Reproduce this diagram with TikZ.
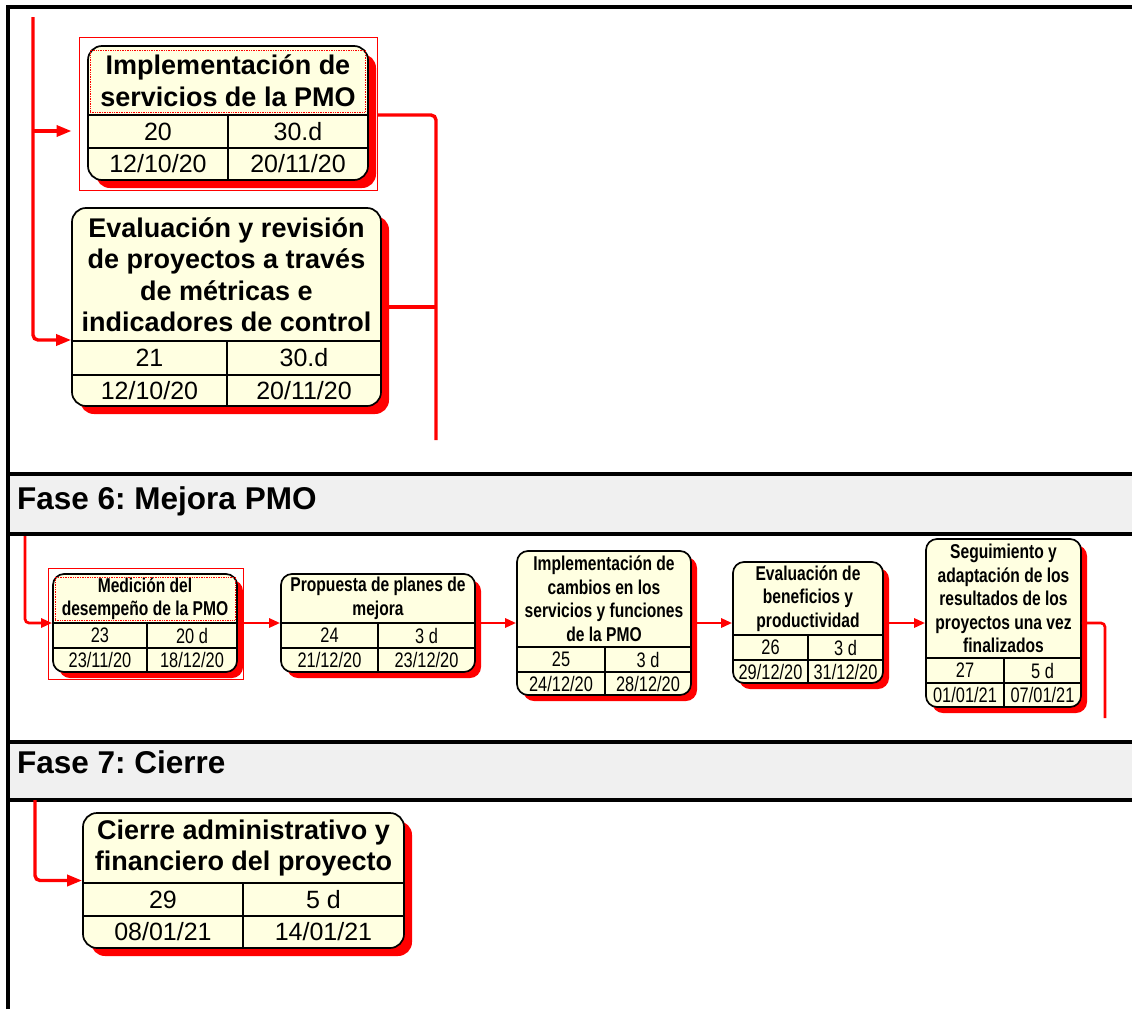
\documentclass[tikz,border=0pt]{standalone}
\usepackage{fontspec}
\setmainfont{Liberation Sans}
\newfontfamily\narrowsans[FakeStretch=0.78]{Liberation Sans}
\usetikzlibrary{arrows.meta,fit}
\frenchspacing

\definecolor{boxfill}{HTML}{FFFFE1}
\definecolor{bandgray}{HTML}{F0F0F0}

% geometry of the next task box:
% left, top, right, bottom, title/row line, row/row line, column line, shadow offset
\newcommand\geom[8]{\def\Xa{#1}\def\Ya{#2}\def\Xb{#3}\def\Yb{#4}%
  \def\Yt{#5}\def\Yr{#6}\def\Xd{#7}\def\Off{#8}}

% task box: name, size (big/small), title, id, duration, start, finish
\newcommand\task[7]{%
  \node[#2shadow, fit={(\Xa+\Off,\Ya+\Off) (\Xb+\Off,\Yb+\Off)}] (#1-sh) {};
  \node[box, #2, fit={(\Xa,\Ya) (\Xb,\Yb)}] (#1) {};
  \draw[cellline] (\Xa,\Yt) -- (\Xb,\Yt) (\Xa,\Yr) -- (\Xb,\Yr) (\Xd,\Yt) -- (\Xd,\Yb);
  \node[#2title] (#1-t) at ({(\Xa+\Xb)/2},{(\Ya+\Yt)/2}) {#3};
  \node[#2cell] (#1-id) at ({(\Xa+\Xd)/2},{(\Yt+\Yr)/2}) {#4};
  \node[#2cell] (#1-dur) at ({(\Xd+\Xb)/2},{(\Yt+\Yr)/2}) {#5};
  \node[#2cell] (#1-es) at ({(\Xa+\Xd)/2},{(\Yr+\Yb)/2}) {#6};
  \node[#2cell] (#1-ef) at ({(\Xd+\Xb)/2},{(\Yr+\Yb)/2}) {#7};
}

\begin{document}
\begin{tikzpicture}[x=1pt,y=-1pt,
  frame/.style={draw=black, line width=3.2pt},
  band/.style={fill=bandgray},
  bandtext/.style={anchor=base west, font=\bfseries\fontsize{31.5}{36}\selectfont, inner sep=0pt},
  box/.style={draw=black, line width=1.7pt, fill=boxfill, inner sep=0pt},
  big/.style={rounded corners=14pt},
  small/.style={rounded corners=11pt},
  bigshadow/.style={fill=red, inner sep=0pt, rounded corners=14pt},
  smallshadow/.style={fill=red, inner sep=0pt, rounded corners=11pt},
  cellline/.style={draw=black, line width=1.2pt},
  bigtitle/.style={font=\bfseries\fontsize{27}{31.5}\selectfont, align=center, inner sep=0pt},
  bigcell/.style={font=\fontsize{25}{28}\selectfont, inner sep=0pt},
  smalltitle/.style={font=\narrowsans\bfseries\fontsize{20}{23.5}\selectfont, align=center, inner sep=0pt},
  smallcell/.style={font=\narrowsans\fontsize{21}{23}\selectfont, inner sep=0pt},
  selrect/.style={draw=red, line width=0.9pt, inner sep=0pt},
  focus/.style={draw=red, densely dotted, line width=0.7pt, inner sep=0pt},
  plain/.style={draw=red, line width=3.4pt, rounded corners=5pt},
  plainsm/.style={draw=red, line width=2.7pt, rounded corners=4pt},
  link/.style={plain, -{Triangle[length=15pt,width=11pt]}},
  linksm/.style={plainsm, -{Triangle[length=11pt,width=9pt]}}]

\useasboundingbox[fill=white] (0,0) rectangle (1132,1009);

% phase bands
\fill[band] (8,474) rectangle (1132,534);
\fill[band] (8,742) rectangle (1132,800);
\draw[frame] (8,474) -- (1132,474) (8,534) -- (1132,534);
\draw[frame] (8,742) -- (1132,742) (8,800) -- (1132,800);
\draw[frame] (8,1009) -- (8,7) -- (1132,7);
\node[bandtext] (fase6) at (17,509) {Fase 6: Mejora PMO};
\node[bandtext] (fase7) at (17,773) {Fase 7: Cierre};

% ---------- phase 5 (end) ----------
\geom{88}{46}{368}{180}{115}{148}{228}{8}
\task{n20}{big}{Implementación de\\servicios de la PMO}{20}{30.d}{12/10/20}{20/11/20}
\node[selrect, fit={(79,37) (377,190)}] (n20-sel) {};
\node[focus, fit={(90,50) (365,112)}] (n20-focus) {};

\geom{72}{208}{381}{406}{341}{375}{227}{8}
\task{n21}{big}{Evaluación y revisión\\de proyectos a través\\de métricas e\\indicadores de control}{21}{30.d}{12/10/20}{20/11/20}

\coordinate (trunkTop) at (33,17);
\coordinate (trunkBr) at (33,131);
\coordinate (in21) at (0,340);
\coordinate (out20) at (0,115);
\coordinate (out21) at (0,307);
\coordinate (drop5) at (436,440);
\draw[link] (trunkTop) |- (n21.west |- in21);
\draw[link, shorten >=7pt] (trunkBr) -- (n20-sel.west |- trunkBr);
\draw[plain] (n20-sel.east |- out20) -| (drop5);
\draw[plain] (n21.east |- out21) -- (drop5 |- out21);

% ---------- phase 6 ----------
\geom{53}{574}{237}{672}{623}{648}{147}{6}
\task{n23}{small}{Medición del\\desempeño de la PMO}{23}{20 d}{23/11/20}{18/12/20}
\node[selrect, fit={(48,568) (243,679)}] (n23-sel) {};
\node[focus, fit={(55,577) (235,620)}] (n23-focus) {};

\geom{281}{574}{475}{672}{623}{648}{378}{6}
\task{n24}{small}{Propuesta de planes de\\mejora}{24}{3 d}{21/12/20}{23/12/20}

\geom{517}{551}{691}{695}{647}{672}{605}{6}
\task{n25}{small}{Implementación de\\cambios en los\\servicios y funciones\\de la PMO}{25}{3 d}{24/12/20}{28/12/20}

\geom{733}{562}{883}{683}{635}{660}{808}{6}
\task{n26}{small}{Evaluación de\\beneficios y\\productividad}{26}{3 d}{29/12/20}{31/12/20}

\geom{926}{539}{1081}{707}{658}{683}{1004}{6}
\task{n27}{small}{Seguimiento y\\adaptación de los\\resultados de los\\proyectos una vez\\finalizados}{27}{5 d}{01/01/21}{07/01/21}

\coordinate (in6) at (25,536);
\coordinate (out6) at (1105,718);
\draw[linksm] (in6) |- (n23.west);
\draw[linksm] (n23-sel.east |- n23.east) -- (n24.west);
\draw[linksm] (n24.east) -- (n25.west |- n24.east);
\draw[linksm] (n25.east) -- (n26.west |- n25.east);
\draw[linksm] (n26.east |- n27.west) -- (n27.west);
\draw[plainsm] (n27.east) -| (out6);

% ---------- phase 7 ----------
\geom{83}{813}{404}{948}{883}{916}{243}{8}
\task{n29}{big}{Cierre administrativo y\\financiero del proyecto}{29}{5 d}{08/01/21}{14/01/21}

\coordinate (in7) at (35,800);
\draw[link] (in7) |- (n29.west);

\end{tikzpicture}
\end{document}
